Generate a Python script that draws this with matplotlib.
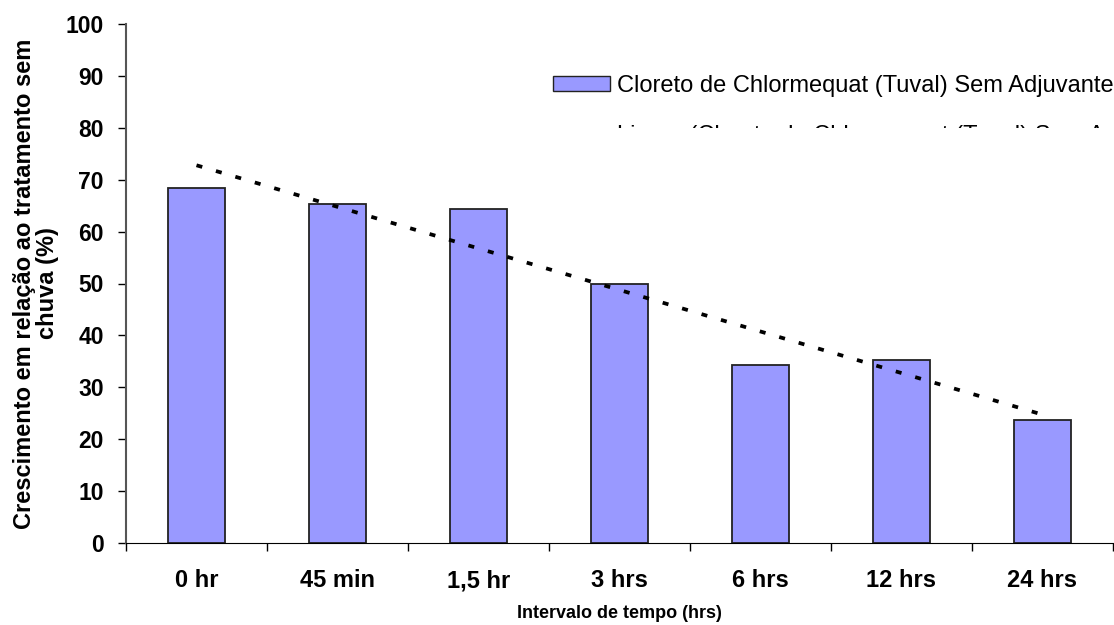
import matplotlib.pyplot as plt
from matplotlib.patches import Patch
from matplotlib.transforms import Bbox
import numpy as np

plt.rcParams['font.family'] = 'Liberation Sans'

# -- Data -- #
categories = ['0 hr', '45 min', '1,5 hr', '3 hrs', '6 hrs', '12 hrs', '24 hrs']
growth = [68.4, 65.3, 64.4, 49.9, 34.3, 35.3, 23.7]
series_name = 'Cloreto de Chlormequat (Tuval) Sem Adjuvante'

x = np.arange(len(categories))

# linear trend, as in the spreadsheet
slope, intercept = np.polyfit(x + 1, growth, 1)
trend = slope * (x + 1) + intercept

fig = plt.figure(figsize=(11.14, 6.25), dpi=100)
ax = fig.add_axes([0.1131, 0.1312, 0.886, 0.8304])

ax.bar(x, growth, width=0.4, color='#9999ff', edgecolor='#222222', linewidth=1.3, zorder=2)
ax.plot(x, trend, color='black', lw=2.7, linestyle=(0, (1.6, 3.8)), zorder=3)

ax.set_xlim(-0.5, len(categories) - 0.5)
ax.set_ylim(0, 100)
ax.set_yticks(np.arange(0, 101, 10))
ax.tick_params(axis='y', direction='out', length=6, width=1, labelsize=16.5, pad=10)
for t in ax.get_yticklabels():
	t.set_fontweight('bold')

# boundaries get the tick marks, centres get the labels
ax.set_xticks(np.arange(-0.5, len(categories), 1.0))
ax.set_xticklabels([])
ax.set_xticks(x, minor=True)
ax.set_xticklabels(categories, minor=True, fontsize=17, fontweight='bold', va='baseline')
ax.tick_params(axis='x', which='major', direction='out', length=6, width=1)
ax.tick_params(axis='x', which='minor', length=0, pad=32)

ax.spines['top'].set_visible(False)
ax.spines['right'].set_visible(False)
ax.spines['left'].set_color('#555555')
ax.spines['left'].set_linewidth(1.5)

ax.set_ylabel('Crescimento em relação ao tratamento sem\nchuva (%)', fontsize=17,
			  fontweight='bold', linespacing=1.0)
ax.yaxis.set_label_coords(-0.091, 0.5)
ax.yaxis.label.set_verticalalignment('center')
ax.set_xlabel('Intervalo de tempo (hrs)', fontsize=13, fontweight='bold')
ax.xaxis.set_label_coords(0.5, -0.1195)
ax.xaxis.label.set_verticalalignment('top')

# -- Legend: second entry cut off by its box -- #
ax.legend([Patch(facecolor='#9999ff', edgecolor='#222222')], [series_name],
		  loc='upper left', bbox_to_anchor=(0.4326, 0.902), frameon=False, borderpad=0,
		  borderaxespad=0, fontsize=17, handlelength=2.4, handleheight=0.6,
		  handletextpad=0.3)

clip = Bbox.from_extents(600, 625 - 128, 1110, 625 - 110)
t2 = fig.text(617 / 1114, 1 - 125 / 625, 'Linear (' + series_name + ')', fontsize=17,
			  va='top', ha='left')
t2.set_clip_box(clip)
t2.set_clip_on(True)

fig.savefig('out.png', dpi=100)
